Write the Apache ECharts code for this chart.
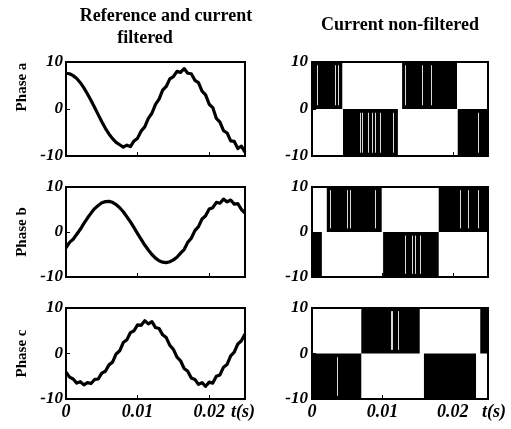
<!DOCTYPE html>
<html>
<head>
<meta charset="utf-8">
<script src="https://cdn.jsdelivr.net/npm/echarts@6/dist/echarts.min.js"></script>
<style>
html, body { margin: 0; padding: 0; background: #fff; }
#chart { width: 511px; height: 429px; }
</style>
</head>
<body>
<div id="chart"></div>
<script>
// filtered currents, one sample every 0.5 ms from t = 0
var sampleStep = 0.0005;
var phaseA = [7.6, 7.5, 7.1, 6.5, 5.6, 4.5, 3.2, 1.8, 0.3, -1.2, -2.7, -4.1, -5.3, -6.3, -7.1, -7.6,
    -8.1, -7.7, -8.0, -6.8, -6.2, -4.7, -3.8, -2.0, -0.9, 1.0, 2.1, 4.0, 4.8, 6.4, 6.9, 8.0, 7.8, 8.6,
    7.6, 7.5, 6.1, 5.6, 3.8, 3.0, 1.0, 0.3, -2.0, -2.8, -4.6, -5.1, -6.8, -6.9, -8.4, -7.9, -9.2];
var phaseB = [-3.5, -2.3, -1.6, -0.5, 0.6, 1.9, 3.1, 4.2, 5.2, 5.9, 6.5, 6.75, 6.8, 6.6, 6.1, 5.4, 4.5,
    3.4, 2.25, 0.97, -0.35, -1.65, -2.9, -4.0, -5.0, -5.8, -6.4, -6.7, -6.8, -6.6, -6.2, -5.6, -4.7,
    -3.9, -2.3, -1.4, 0.3, 1.2, 2.9, 3.6, 5.1, 5.4, 6.6, 6.4, 7.3, 6.7, 7.1, 6.2, 6.3, 5.0, 4.2];
var phaseC = [-4.1, -5.2, -5.6, -6.5, -6.2, -6.9, -6.4, -6.6, -5.7, -5.6, -4.3, -3.9, -2.5, -1.9, -0.1,
    0.6, 2.4, 3.0, 4.6, 5.0, 6.3, 6.2, 7.2, 6.5, 7.0, 5.7, 5.5, 4.1, 3.5, 1.8, 0.9, -0.8, -1.6, -3.3,
    -3.9, -5.4, -5.7, -6.8, -6.4, -7.2, -6.3, -6.5, -5.0, -4.7, -3.0, -2.4, -0.5, 0.3, 2.1, 2.8, 4.3];

// non-filtered current: switching blocks [start, end] (s), positive half / negative half
var phaseAPos = [[0, 0.0043], [0.0128, 0.0206]];
var phaseANeg = [[0.0044, 0.0122], [0.0207, 0.025]];
var phaseBPos = [[0.0021, 0.0099], [0.0180, 0.025]];
var phaseBNeg = [[0, 0.0014], [0.0101, 0.0180]];
var phaseCPos = [[0.0070, 0.0153], [0.0239, 0.025]];
var phaseCNeg = [[0, 0.0070], [0.0159, 0.0233]];

// light gaps seen inside the dark blocks: [t, sign]
var phaseAGaps = [[0.0007, 1], [0.0033, 1], [0.0037, 1], [0.0132, 1], [0.0156, 1], [0.0169, 1],
    [0.0068, -1], [0.0071, -1], [0.0080, -1], [0.0085, -1], [0.0089, -1], [0.0097, -1], [0.0115, -1], [0.0236, -1]];
var phaseBGaps = [[0.0026, 1], [0.0050, 1], [0.0054, 1], [0.0089, 1], [0.0210, 1], [0.0222, 1], [0.0236, 1],
    [0.0132, -1], [0.0142, -1], [0.0146, -1], [0.0153, -1]];
var phaseCGaps = [[0.0112, 1], [0.0114, 1], [0.0122, 1], [0.0036, -1]];

var xTicks = [0, 0.01, 0.02];
var xMax = 0.025;
var yMin = -10, yMax = 10, yStep = 10;
var phaseNames = ['Phase a', 'Phase b', 'Phase c'];

var myChart = echarts.init(document.getElementById('chart'));

var serif = '"Liberation Serif", "DejaVu Serif", serif';

var grids = [
    {left: 66, top: 62, width: 179, height: 94},
    {left: 312, top: 62, width: 176, height: 94},
    {left: 66, top: 187, width: 179, height: 90},
    {left: 312, top: 187, width: 176, height: 90},
    {left: 66, top: 308, width: 179, height: 91},
    {left: 312, top: 308, width: 176, height: 91}
];
grids.forEach(function (g) {
    g.show = true;
    g.borderColor = '#000';
    g.borderWidth = 2;
    g.backgroundColor = 'transparent';
});

var xAxes = [], yAxes = [];
for (var i = 0; i < 6; i++) {
    var row = Math.floor(i / 2);
    var isBottom = row == 2;
    xAxes.push({
        gridIndex: i,
        type: 'value',
        min: 0,
        max: xMax,
        interval: 0.01,
        axisLine: {show: false, onZero: false},
        splitLine: {show: false},
        axisTick: {show: true, inside: true, length: 4, lineStyle: {color: '#000'}},
        axisLabel: {
            show: isBottom,
            margin: 4,
            showMaxLabel: false,
            formatter: function (v) {
                if (xTicks.indexOf(Math.round(v * 1000) / 1000) < 0) return '';
                return v === 0 ? '0' : v.toFixed(2);
            },
            color: '#000', fontFamily: serif, fontStyle: 'italic', fontWeight: 'bold', fontSize: 18
        },
        name: isBottom ? 't(s)' : '',
        nameLocation: 'end',
        nameGap: i == 4 ? -14 : -6,
        nameTextStyle: {
            color: '#000', fontFamily: serif, fontStyle: 'italic', fontWeight: 'bold', fontSize: 18,
            verticalAlign: 'top', padding: [4, 0, 0, 0]
        }
    });
    var isLeft = i % 2 == 0;
    yAxes.push({
        gridIndex: i,
        type: 'value',
        min: yMin,
        max: yMax,
        interval: yStep,
        axisLine: {show: false, onZero: false},
        splitLine: {show: false},
        axisTick: {show: true, inside: true, length: 4, lineStyle: {color: '#000'}},
        axisLabel: {
            margin: isLeft ? 3 : 4,
            color: '#000', fontFamily: serif, fontStyle: 'italic', fontWeight: 'bold', fontSize: 17
        },
        name: isLeft ? phaseNames[row] : '',
        nameLocation: 'middle',
        nameRotate: 90,
        nameGap: 36,
        nameTextStyle: {
            color: '#000', fontFamily: serif, fontWeight: 'bold', fontSize: 15,
            padding: row == 0 ? [0, 0, 0, 44] : 0
        }
    });
}

function toPoints(values) {
    return values.map(function (v, idx) { return [idx * sampleStep, v]; });
}

function renderBlock(sign) {
    return function (params, api) {
        var p0 = api.coord([api.value(0), 0]);
        var p1 = api.coord([api.value(1), sign * yMax]);
        return {
            type: 'rect',
            shape: {
                x: p0[0], y: Math.min(p0[1], p1[1]),
                width: p1[0] - p0[0], height: Math.abs(p1[1] - p0[1])
            },
            style: {fill: '#000'}
        };
    };
}

function renderGap(params, api) {
    var s = api.value(1);
    var a = api.coord([api.value(0), s * 0.8]);
    var b = api.coord([api.value(0), s * 9.3]);
    var x = Math.round(a[0]) + 0.5;
    return {
        type: 'line',
        shape: {x1: x, y1: a[1], x2: x, y2: b[1]},
        style: {stroke: '#fff', lineWidth: 1, opacity: 0.85}
    };
}

var filtered = [phaseA, phaseB, phaseC];
var posBlocks = [phaseAPos, phaseBPos, phaseCPos];
var negBlocks = [phaseANeg, phaseBNeg, phaseCNeg];
var gaps = [phaseAGaps, phaseBGaps, phaseCGaps];

var series = [];
for (var r = 0; r < 3; r++) {
    series.push({
        type: 'line',
        xAxisIndex: r * 2,
        yAxisIndex: r * 2,
        data: toPoints(filtered[r]),
        showSymbol: false,
        lineStyle: {color: '#000', width: 3.2, join: 'round'},
        animation: false
    });
    series.push({
        type: 'custom',
        xAxisIndex: r * 2 + 1,
        yAxisIndex: r * 2 + 1,
        renderItem: renderBlock(1),
        encode: {x: [0, 1]},
        data: posBlocks[r],
        clip: true,
        animation: false
    });
    series.push({
        type: 'custom',
        xAxisIndex: r * 2 + 1,
        yAxisIndex: r * 2 + 1,
        renderItem: renderBlock(-1),
        encode: {x: [0, 1]},
        data: negBlocks[r],
        clip: true,
        animation: false
    });
    series.push({
        type: 'custom',
        xAxisIndex: r * 2 + 1,
        yAxisIndex: r * 2 + 1,
        renderItem: renderGap,
        encode: {x: 0, y: 1},
        data: gaps[r],
        z: 3,
        animation: false
    });
}

var option = {
    backgroundColor: '#fff',
    animation: false,
    grid: grids,
    xAxis: xAxes,
    yAxis: yAxes,
    graphic: [
        {type: 'text', x: 166, y: 16, style: {text: 'Reference and current', font: 'bold 18px ' + serif,
            fill: '#000', align: 'center', verticalAlign: 'middle', textAlign: 'center', textVerticalAlign: 'middle'}},
        {type: 'text', x: 145, y: 38, style: {text: 'filtered', font: 'bold 18px ' + serif,
            fill: '#000', align: 'center', verticalAlign: 'middle', textAlign: 'center', textVerticalAlign: 'middle'}},
        {type: 'text', x: 400, y: 25, style: {text: 'Current non-filtered', font: 'bold 18px ' + serif,
            fill: '#000', align: 'center', verticalAlign: 'middle', textAlign: 'center', textVerticalAlign: 'middle'}}
    ],
    series: series
};

myChart.setOption(option);
</script>
</body>
</html>
